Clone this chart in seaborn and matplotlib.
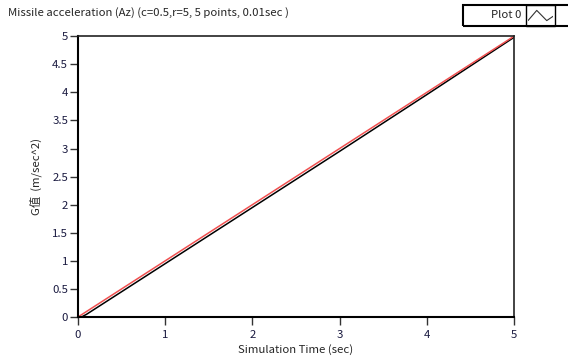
import numpy as np
import matplotlib
matplotlib.use('Agg')
import matplotlib.pyplot as plt
import seaborn as sns
import pandas as pd
from matplotlib.patches import Rectangle

# data
time_ref = [0, 5]
accel_ref = [0, 5]
time_sim = [0, 0.04, 0.1, 1, 2, 3, 4, 5]
accel_sim = [0, 0, 0.05, 0.95, 1.95, 2.95, 3.96, 4.98]
x_ticks = [0, 1, 2, 3, 4, 5]
y_ticks = [0, 0.5, 1, 1.5, 2, 2.5, 3, 3.5, 4, 4.5, 5]
y_ticklabels = ['0', '0.5', '1', '1.5', '2', '2.5', '3', '3.5', '4', '4.5', '5']

sns.set_style('white')
plt.rcParams['font.family'] = ['Noto Sans CJK TC', 'DejaVu Sans']

df_ref = pd.DataFrame({'t': time_ref, 'a': accel_ref})
df_sim = pd.DataFrame({'t': time_sim, 'a': accel_sim})

fig = plt.figure(figsize=(5.68, 3.62), dpi=100)
ax = fig.add_axes([0.137, 0.124, 0.768, 0.776])

sns.lineplot(data=df_sim, x='t', y='a', color='black', linewidth=1.1, ax=ax)
sns.lineplot(data=df_ref, x='t', y='a', color='#f05050', linewidth=1.1, ax=ax)

ax.set_xlim(0, 5)
ax.set_ylim(0, 5)
ax.set_xticks(x_ticks)
ax.set_yticks(y_ticks)
ax.set_yticklabels(y_ticklabels)
ax.tick_params(axis='both', which='major', length=6, width=1, color='#333333',
               labelsize=8.2, labelcolor='#1a1a40', direction='out',
               bottom=True, left=True)
ax.tick_params(axis='x', pad=3)
ax.tick_params(axis='y', pad=1)
ax.set_xlabel('Simulation Time (sec)', fontsize=8.2, labelpad=3)
ax.set_ylabel('G值  (m/sec^2)', fontsize=8.2, labelpad=7)
for side in ['left', 'bottom']:
    ax.spines[side].set_linewidth(1.5)
    ax.spines[side].set_color('black')
for side in ['top', 'right']:
    ax.spines[side].set_linewidth(1.2)
    ax.spines[side].set_color('#222222')

fig.text(8 / 568, 1 - 13 / 362, 'Missile acceleration (Az) (c=0.5,r=5, 5 points, 0.01sec )',
         fontsize=8.2, va='center', ha='left')

# legend box
fig.patches.append(Rectangle((463 / 568, 1 - 26 / 362), 110 / 568, 21 / 362,
                             transform=fig.transFigure, fill=False,
                             edgecolor='black', linewidth=1.5))
fig.patches.append(Rectangle((526 / 568, 1 - 26 / 362), 29 / 568, 21 / 362,
                             transform=fig.transFigure, fill=False,
                             edgecolor='black', linewidth=1))
fig.text(521 / 568, 1 - 15.5 / 362, 'Plot 0', fontsize=8.2, ha='right', va='center')
icon = fig.add_axes([528 / 568, 1 - 24 / 362, 25 / 568, 17 / 362])
icon.plot([0, 0.35, 0.75, 1], [0.2, 0.8, 0.2, 0.45], color='#333333', linewidth=0.8)
icon.set_xlim(0, 1)
icon.set_ylim(0, 1)
icon.axis('off')

plt.savefig('out.png', dpi=100)
